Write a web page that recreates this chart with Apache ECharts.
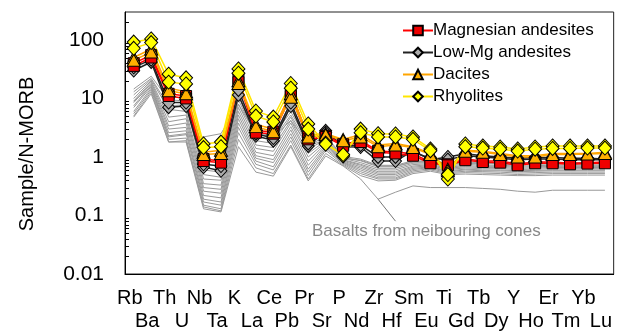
<!DOCTYPE html>
<html>
<head>
<meta charset="utf-8">
<script src="https://cdn.jsdelivr.net/npm/echarts@6/dist/echarts.min.js"></script>
<style>
  html, body { margin: 0; padding: 0; background: #fff; }
  #spider { width: 623px; height: 333px; }
</style>
</head>
<body>
<div id="spider"></div>
<script>
// N-MORB normalised spider diagram
var elements = ['Rb', 'Ba', 'Th', 'U', 'Nb', 'Ta', 'K', 'La', 'Ce', 'Pb', 'Pr', 'Sr', 'P', 'Nd',
  'Zr', 'Hf', 'Sm', 'Eu', 'Ti', 'Gd', 'Tb', 'Dy', 'Y', 'Ho', 'Er', 'Tm', 'Yb', 'Lu']
var yTickValues = [0.01, 0.1, 1, 10, 100]

// basalts from neighbouring cones (grey, no markers)
var basalts = [
  [14.5, 24, 9.5, 9.0, 0.6, 0.55, 11, 2.6, 2.3, 5.9, 1.8, 2.3, 1.02, 0.92, 0.72, 0.72, 0.86, 0.85, 0.78, 0.82, 0.8, 0.8, 0.78, 0.79, 0.8, 0.8, 0.8, 0.8],
  [13, 22, 7.5, 7.8, 0.5, 0.45, 9.5, 2.2, 2.0, 5.2, 1.6, 2.2, 0.98, 0.86, 0.68, 0.68, 0.82, 0.82, 0.74, 0.78, 0.76, 0.76, 0.74, 0.75, 0.76, 0.76, 0.76, 0.76],
  [11.5, 21, 6.5, 6.0, 0.42, 0.4, 8, 1.9, 1.7, 4.8, 1.35, 2.0, 0.95, 0.8, 0.64, 0.64, 0.78, 0.8, 0.7, 0.75, 0.72, 0.72, 0.7, 0.71, 0.72, 0.72, 0.72, 0.72],
  [10, 20, 4.8, 5.2, 0.35, 0.33, 7, 1.6, 1.45, 4.2, 1.15, 1.9, 0.9, 0.75, 0.6, 0.6, 0.74, 0.77, 0.67, 0.71, 0.69, 0.69, 0.67, 0.68, 0.69, 0.69, 0.69, 0.69],
  [9, 19, 4.0, 4.5, 0.3, 0.28, 6, 1.4, 1.25, 3.8, 1.0, 1.8, 0.88, 0.72, 0.56, 0.56, 0.7, 0.74, 0.64, 0.68, 0.66, 0.66, 0.64, 0.65, 0.66, 0.66, 0.66, 0.66],
  [8.5, 18, 3.4, 3.8, 0.26, 0.24, 5.2, 1.2, 1.05, 3.3, 0.85, 1.7, 0.85, 0.68, 0.53, 0.53, 0.67, 0.71, 0.61, 0.65, 0.63, 0.63, 0.61, 0.62, 0.63, 0.63, 0.63, 0.63],
  [7.5, 17, 3.0, 3.2, 0.22, 0.2, 4.5, 1.05, 0.9, 2.9, 0.72, 1.6, 0.82, 0.64, 0.5, 0.5, 0.64, 0.68, 0.58, 0.62, 0.6, 0.6, 0.58, 0.59, 0.6, 0.6, 0.6, 0.6],
  [7, 16, 2.6, 2.8, 0.19, 0.17, 3.8, 0.95, 0.8, 2.5, 0.62, 1.5, 0.8, 0.6, 0.47, 0.47, 0.61, 0.66, 0.56, 0.6, 0.58, 0.58, 0.56, 0.57, 0.58, 0.58, 0.58, 0.58],
  [6, 15, 2.3, 2.5, 0.17, 0.15, 3.2, 0.85, 0.68, 2.2, 0.55, 1.4, 0.78, 0.56, 0.44, 0.44, 0.58, 0.63, 0.54, 0.57, 0.56, 0.55, 0.53, 0.54, 0.55, 0.55, 0.55, 0.55],
  [5.5, 14, 2.0, 2.1, 0.15, 0.13, 2.6, 0.75, 0.6, 1.9, 0.48, 1.3, 0.75, 0.52, 0.42, 0.42, 0.55, 0.6, 0.52, 0.54, 0.53, 0.52, 0.5, 0.51, 0.52, 0.52, 0.52, 0.52],
  [5, 13, 1.8, 1.9, 0.14, 0.12, 2.0, 0.65, 0.52, 1.6, 0.42, 1.15, 0.72, 0.48, 0.39, 0.4, 0.52, 0.57, 0.5, 0.51, 0.5, 0.49, 0.48, 0.48, 0.49, 0.49, 0.49, 0.49],
  [9, 16, 2.2, 2.4, 2.2, 2.5, 8, 2.5, 2.2, 4.2, 1.6, 1.9, 0.95, 0.88, 0.7, 0.7, 0.82, 0.84, 0.76, 0.8, 0.78, 0.77, 0.75, 0.76, 0.77, 0.77, 0.77, 0.77],
  [4.8, 12, 1.8, 1.8, 0.13, 0.115, 1.5, 0.55, 0.47, 1.5, 0.39, 1.04, 0.7, 0.42, 0.19, 0.25, 0.32, 0.3, 0.3, 0.3, 0.29, 0.28, 0.26, 0.25, 0.27, 0.27, 0.27, 0.27]
]

var lowMgAndesites = [
  [30, 42, 7.1, 7.4, 0.67, 0.58, 11.5, 2.3, 1.9, 7.4, 1.54, 2.8, 1.5, 1.48, 0.85, 0.85, 1.27, 0.9, 1.0, 1.13, 1.05, 1.0, 0.95, 0.98, 0.98, 0.95, 0.95, 0.92],
  [34, 46, 8.5, 8.5, 0.75, 0.7, 14, 2.5, 2.1, 8.5, 1.7, 2.6, 1.55, 1.6, 1.0, 1.0, 1.2, 0.95, 0.9, 1.05, 1.0, 0.95, 0.9, 0.92, 0.92, 0.9, 0.9, 0.9]
]
var magnesianAndesites = [
  [40, 55, 12, 11, 0.92, 0.85, 21.6, 2.8, 2.7, 12.9, 2.2, 2.3, 1.65, 1.9, 1.27, 1.22, 1.13, 0.82, 0.75, 0.92, 0.85, 0.85, 0.76, 0.82, 0.82, 0.78, 0.8, 0.82],
  [36, 50, 11, 10, 0.85, 0.8, 19, 2.6, 2.5, 11, 2.0, 2.2, 1.55, 1.8, 1.2, 1.15, 1.05, 0.78, 0.72, 0.88, 0.82, 0.8, 0.72, 0.78, 0.78, 0.75, 0.77, 0.78]
]
var dacites = [
  [50, 70, 15, 13, 1.2, 1.3, 20, 3.6, 3.0, 12, 2.4, 2.5, 2.0, 2.4, 1.6, 1.7, 1.5, 1.15, 0.62, 1.3, 1.25, 1.15, 1.05, 1.05, 1.15, 1.15, 1.15, 1.2],
  [45, 62, 13.5, 12, 1.1, 1.15, 18, 3.3, 2.7, 10.5, 2.2, 2.4, 1.9, 2.2, 1.5, 1.6, 1.45, 1.1, 0.58, 1.25, 1.2, 1.1, 1.0, 1.0, 1.1, 1.1, 1.12, 1.15]
]
var rhyolites = [
  [92, 104, 26, 22.5, 1.67, 1.8, 32, 6.1, 4.8, 18, 3.66, 1.73, 1.04, 3.0, 2.5, 2.47, 2.2, 1.37, 0.42, 1.67, 1.54, 1.48, 1.37, 1.48, 1.54, 1.54, 1.54, 1.54],
  [72, 90, 19, 17.7, 1.45, 1.5, 27, 5.0, 3.96, 15, 3.0, 1.65, 1.1, 2.6, 2.2, 2.2, 2.0, 1.28, 0.5, 1.5, 1.42, 1.36, 1.26, 1.36, 1.4, 1.4, 1.42, 1.42]
]

var font = '"Liberation Sans", Arial, sans-serif'

// log minor ticks (2..9 in every decade), drawn inside the y axis
var minorTicks = []
for (var d = -2; d <= 2; d++) {
  for (var m = 2; m <= 9; m++) {
    var v = m * Math.pow(10, d)
    if (v < 300) minorTicks.push([0, v])
  }
}

var series = []

basalts.forEach(function (row, i) {
  var s = {
    name: 'Basalts',
    type: 'line',
    data: row,
    symbol: 'none',
    lineStyle: { color: '#999', width: 1 },
    silent: true
  }
  if (i === basalts.length - 1) {
    // pointer from the label up to the lowest basalt
    s.markLine = {
      silent: true,
      symbol: ['none', 'none'],
      label: { show: false },
      lineStyle: { color: '#777', width: 1, type: 'solid' },
      data: [[{ coord: ['Zr', 0.19] }, { coord: ['Hf', 0.08] }]]
    }
  }
  series.push(s)
})

function group(rows, name, lineColor, symbol, size, fill) {
  rows.forEach(function (row) {
    series.push({
      name: name,
      type: 'line',
      data: row,
      symbol: symbol,
      symbolSize: size,
      showAllSymbol: true,
      lineStyle: { color: lineColor, width: 1.5 },
      itemStyle: { color: fill, borderColor: '#000', borderWidth: 1 }
    })
  })
}

group(lowMgAndesites, 'Low-Mg andesites', '#222', 'diamond', [12, 13], '#ababab')
group(magnesianAndesites, 'Magnesian andesites', '#ff0000', 'rect', [11, 11], '#ee0000')
group(dacites, 'Dacites', '#ffa500', 'triangle', [13, 12], '#ffb000')
group(rhyolites, 'Rhyolites', '#ffe600', 'diamond', [13, 14], '#ffff00')

series.push({
  type: 'custom',
  name: 'minorTicks',
  data: minorTicks,
  encode: { x: 0, y: 1 },
  silent: true,
  renderItem: function (params, api) {
    var y = Math.round(api.coord([0, api.value(1)])[1]) + 0.5
    var x0 = params.coordSys.x
    return {
      type: 'line',
      shape: { x1: x0, y1: y, x2: x0 + 4, y2: y },
      style: { stroke: '#000', lineWidth: 1 }
    }
  }
})

var myChart = echarts.init(document.getElementById('spider'))
var option = {
  animation: false,
  backgroundColor: '#fff',
  grid: {
    left: 125,
    right: 6,
    top: 12,
    bottom: 59,
    show: true,
    borderColor: '#222',
    borderWidth: 1
  },
  legend: {
    data: ['Magnesian andesites', 'Low-Mg andesites', 'Dacites', 'Rhyolites'],
    orient: 'vertical',
    left: 397,
    top: 17,
    itemWidth: 30,
    itemHeight: 12,
    itemGap: 5,
    textStyle: { fontFamily: font, fontSize: 17, color: '#000', padding: [0, 0, 0, -5] }
  },
  xAxis: [
    {
      type: 'category',
      data: elements,
      boundaryGap: true,
      axisLine: { lineStyle: { color: '#000', width: 1 } },
      axisTick: { inside: true, alignWithLabel: true, length: 4, lineStyle: { color: '#000' } },
      axisLabel: {
        interval: 0,
        margin: 13,
        fontFamily: font,
        fontSize: 20,
        lineHeight: 23,
        color: '#000',
        verticalAlign: 'top',
        padding: [0, 8, 0, 0],
        formatter: function (value, index) {
          return index % 2 === 0 ? value : '\n' + value
        }
      },
      splitLine: { show: false }
    },
    {
      type: 'category',
      data: elements,
      position: 'bottom',
      boundaryGap: true,
      axisLine: { show: false },
      axisTick: { inside: false, alignWithLabel: true, length: 4, lineStyle: { color: '#000' } },
      axisLabel: { show: false },
      splitLine: { show: false }
    }
  ],
  yAxis: {
    type: 'log',
    logBase: 10,
    min: 0.01,
    max: 300,
    name: 'Sample/N-MORB',
    nameLocation: 'middle',
    nameGap: 88,
    nameTextStyle: { fontFamily: font, fontSize: 20, color: '#000', padding: [0, 22, 0, 0] },
    axisLine: { show: true, lineStyle: { color: '#000', width: 1 } },
    axisTick: { inside: true, length: 7, lineStyle: { color: '#000' } },
    splitLine: { show: false },
    axisLabel: {
      margin: 21,
      fontFamily: font,
      fontSize: 21,
      color: '#000',
      formatter: function (value) {
        for (var i = 0; i < yTickValues.length; i++) {
          if (Math.abs(value - yTickValues[i]) / yTickValues[i] < 1e-6) return String(yTickValues[i])
        }
        return ''
      }
    }
  },
  graphic: [
    {
      type: 'text',
      left: 312,
      top: 223,
      style: {
        text: 'Basalts from neibouring cones',
        fill: '#888',
        font: '17px ' + font
      }
    }
  ],
  series: series
}
myChart.setOption(option)
</script>
</body>
</html>
